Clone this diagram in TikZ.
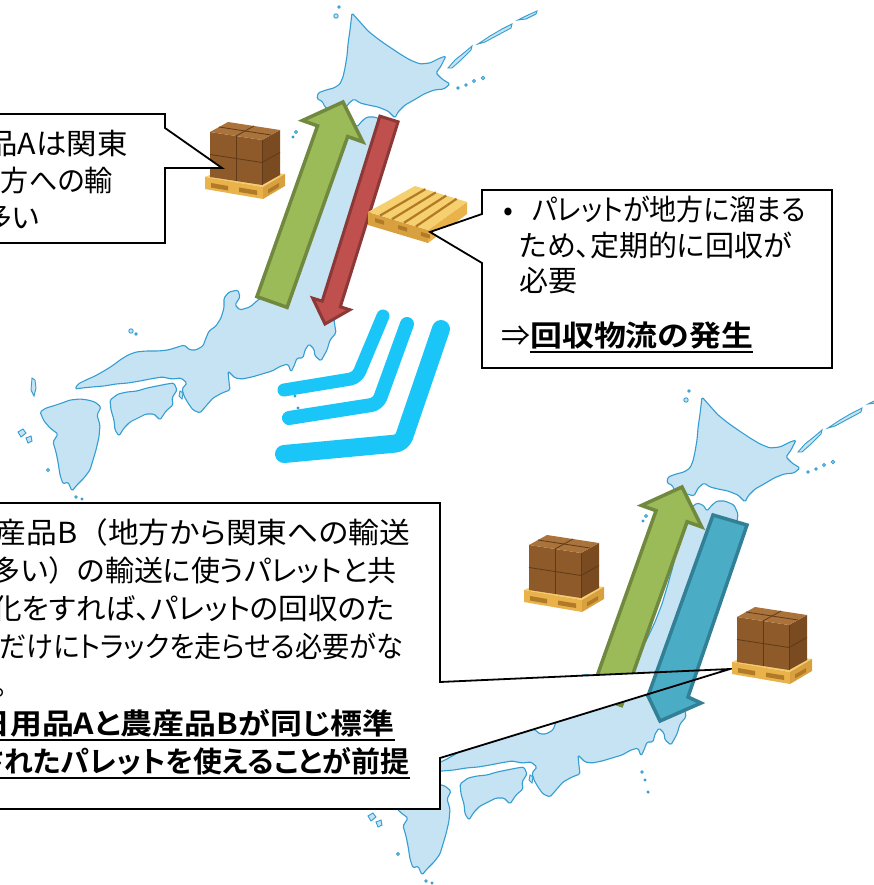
\documentclass[tikz,border=0pt]{standalone}
\usepackage{graphicx}
\usepackage{fontspec}
\setmainfont{Noto Sans CJK JP}[BoldFont={Noto Sans CJK JP Bold},RawFeature={+palt}]
\usetikzlibrary{calc}

\definecolor{mapfill}{RGB}{197,227,242}
\definecolor{mapline}{RGB}{52,158,210}
\definecolor{windcyan}{RGB}{26,198,248}
\definecolor{grfill}{RGB}{155,187,89}
\definecolor{grline}{RGB}{113,137,63}
\definecolor{rdfill}{RGB}{192,80,77}
\definecolor{rdline}{RGB}{140,56,54}
\definecolor{blfill}{RGB}{75,172,198}
\definecolor{blline}{RGB}{49,128,150}
\definecolor{boxtop}{RGB}{170,115,60}
\definecolor{boxfront}{RGB}{142,90,42}
\definecolor{boxside}{RGB}{122,74,32}
\definecolor{boxseam}{RGB}{94,58,24}
\definecolor{paltop}{RGB}{246,207,110}
\definecolor{palfront}{RGB}{233,178,75}
\definecolor{palside}{RGB}{217,160,64}
\definecolor{palslot}{RGB}{176,122,38}

% bold, underlined run of text
\newsavebox{\ulbbox}
\newcommand{\ulb}[1]{\sbox{\ulbbox}{\bfseries #1}\rlap{\rule[-7pt]{\wd\ulbbox}{2pt}}\usebox{\ulbbox}}
% full-width brackets without proportional spacing
\newcommand{\fw}[1]{{\addfontfeatures{RawFeature=-palt}#1}}
% horizontally scaled line of text
\newcommand{\sx}[2]{\scalebox{#1}[1]{#2}}

% block arrow: style, tail, tip, half shaft width, half head width, head length
\newcommand{\blockarrow}[6]{%
  \coordinate (ba-base) at ($(#3)!#6!(#2)$);
  \filldraw[#1] ($(#2)!#4!90:(#3)$) -- ($(ba-base)!#4!90:(#3)$) -- ($(ba-base)!#5!90:(#3)$) -- (#3)
    -- ($(ba-base)!#5!-90:(#3)$) -- ($(ba-base)!#4!-90:(#3)$) -- ($(#2)!#4!-90:(#3)$) -- cycle;
}

\tikzset{
  map/.style={fill=mapfill, draw=mapline, line width=1.1pt, line join=round, rounded corners=1.5pt},
  islet/.style={fill=mapfill, draw=mapline, line width=0.9pt},
  callout/.style={line width=1.8pt, line join=miter},
  txt/.style={inner sep=0pt, font=\fontsize{29}{35}\selectfont},
  wind/.style={draw=windcyan, line cap=round, line join=round, rounded corners=7pt},
  seam/.style={draw=boxseam, line width=0.8pt},
  japan/.pic={
    % Hokkaido
    \filldraw[map] (352,13) -- (360,22) -- (368,31) -- (378,39) -- (388,46) -- (400,54) -- (410,60)
      -- (420,64) -- (430,63) -- (440,58) -- (446,56) -- (441,66) -- (436,73) -- (442,79) -- (450,84)
      -- (444,89) -- (434,90) -- (424,94) -- (414,100) -- (405,105) -- (398,112) -- (395,118)
      -- (388,111) -- (378,107) -- (368,105) -- (360,103) -- (354,99) -- (348,104) -- (344,112)
      -- (337,110) -- (330,111) -- (325,107) -- (322,101) -- (317,99) -- (318,93) -- (326,90)
      -- (334,88) -- (340,84) -- (343,77) -- (345,68) -- (347,56) -- (348,44) -- (350,30) -- cycle;
    % Kuril chain and small islands of the north
    \filldraw[islet] (448,68) -- (455,60) -- (465,52) -- (472,46) -- (471,50) -- (461,60) -- (452,68) -- cycle;
    \filldraw[islet] (478,44) -- (490,36) -- (502,29) -- (512,24) -- (511,28) -- (498,35) -- (485,42) -- cycle;
    \filldraw[islet] (518,20) -- (528,15) -- (537,11) -- (536,14) -- (526,19) -- cycle;
    \filldraw[islet] (458,88) circle (1.3) (466,85) circle (1.3) (474,81) circle (1.5) (483,78) circle (1.8);
    \filldraw[islet] (336,16) circle (2.2) (339,7) circle (1.2);
    % Honshu
    \filldraw[map] (341,124) -- (347,119) -- (353,121) -- (357,127) -- (362,121) -- (367,117) -- (375,117)
      -- (384,121) -- (388,130) -- (386,145) -- (383,160) -- (380,175) -- (376,190) -- (370,208)
      -- (364,225) -- (357,245) -- (350,265) -- (344,285) -- (338,305) -- (334,320) -- (336,333)
      -- (330,340) -- (327,350) -- (321,361) -- (315,356) -- (314,349) -- (309,344) -- (305,350)
      -- (303,358) -- (297,358) -- (294,366) -- (291,372) -- (288,364) -- (281,366) -- (272,371)
      -- (262,374) -- (252,377) -- (242,379) -- (235,378) -- (228,371) -- (229,382) -- (230,390)
      -- (222,393) -- (213,398) -- (206,406) -- (200,413) -- (193,410) -- (188,403) -- (184,396)
      -- (182,389) -- (187,383) -- (181,378) -- (172,379) -- (162,377) -- (150,379) -- (140,381)
      -- (128,383) -- (116,384) -- (104,386) -- (92,387) -- (82,388) -- (75,389) -- (78,384)
      -- (86,380) -- (95,376) -- (104,371) -- (112,366) -- (120,360) -- (128,355) -- (136,352)
      -- (146,351) -- (158,351) -- (168,350) -- (178,347) -- (184,345) -- (190,350) -- (196,350)
      -- (203,346) -- (206,338) -- (209,331) -- (216,326) -- (221,318) -- (224,308) -- (224,298)
      -- (229,292) -- (238,290) -- (240,297) -- (235,305) -- (240,310) -- (250,307) -- (258,300)
      -- (268,293) -- (278,284) -- (288,270) -- (297,255) -- (305,238) -- (312,220) -- (318,200)
      -- (323,182) -- (327,165) -- (331,150) -- (335,138) -- (338,130) -- cycle;
    % Shikoku
    \filldraw[map] (110,400) -- (118,394) -- (127,392) -- (137,391) -- (147,388) -- (157,386) -- (167,384)
      -- (174,383) -- (177,390) -- (172,398) -- (173,405) -- (166,411) -- (160,420) -- (154,414)
      -- (146,414) -- (138,418) -- (130,422) -- (124,428) -- (119,436) -- (115,430) -- (114,420)
      -- (111,410) -- cycle;
    % Kyushu
    \filldraw[map] (80,399) -- (88,400) -- (95,402) -- (101,407) -- (97,415) -- (100,425) -- (99,437)
      -- (96,450) -- (93,460) -- (90,470) -- (84,478) -- (77,485) -- (72,491) -- (68,482) -- (63,484)
      -- (60,475) -- (58,462) -- (56,452) -- (53,442) -- (58,434) -- (50,428) -- (44,421) -- (40,412)
      -- (46,408) -- (53,406) -- (62,403) -- (70,400) -- cycle;
    % smaller islands
    \filldraw[islet] (32,378) -- (35,380) -- (36,388) -- (34,396) -- (31,390) -- cycle;
    \filldraw[islet] (18,432) -- (23,429) -- (26,433) -- (21,437) -- cycle;
    \filldraw[islet] (26,438) -- (31,436) -- (32,441) -- (28,443) -- cycle;
    \filldraw[islet] (131,331) circle (2.2) (136,334) circle (1.3);
    \filldraw[islet] (180,391) -- (183,393) -- (182,399) -- (179,396) -- cycle;
    \filldraw[islet] (296,132) circle (1.5) (293,137) circle (1);
    \filldraw[islet] (292,388) circle (1.2) (295,396) circle (1) (298,408) circle (1.1);
    \filldraw[islet] (48,470) circle (1.4) (76,497) circle (1.2) (82,499) circle (1);
  },
  cargo/.pic={
    % pallet under the load
    \fill[paltop] (0,58) -- (23,48) -- (80,55) -- (58,68) -- cycle;
    \fill[palfront] (0,58) -- (58,68) -- (58,80) -- (0,70) -- cycle;
    \fill[palside] (58,68) -- (80,55) -- (80,67) -- (58,80) -- cycle;
    \fill[palslot] (6,64) -- (23,67) -- (23,71.5) -- (6,68.5) -- cycle;
    \fill[palslot] (34,68.5) -- (52,71.5) -- (52,76) -- (34,73) -- cycle;
    \fill[palslot] (63,70.5) -- (74,64) -- (74,68) -- (63,74.5) -- cycle;
    % stacked cartons
    \fill[boxfront] (5,13) -- (57,21) -- (57,66) -- (5,58) -- cycle;
    \fill[boxside] (57,21) -- (75,11) -- (75,56) -- (57,66) -- cycle;
    \fill[boxtop] (5,13) -- (23,3) -- (75,11) -- (57,21) -- cycle;
    \draw[seam] (31,17) -- (31,62);
    \draw[seam] (5,35.5) -- (57,43.5) -- (75,33.5);
    \draw[seam] (14,8) -- (66,16);
    \draw[seam] (31,17) -- (49,7);
    \draw[seam] (57,21) -- (57,66);
  }
}

\begin{document}
\begin{tikzpicture}[x=1pt,y=-1pt]
\useasboundingbox (0,0) rectangle (874,885);
\clip (0,0) rectangle (874,885);
\fill[white] (0,0) rectangle (874,885);

% the two maps of Japan
\pic (mapTop) at (0,0) {japan};
\pic (mapBottom) at (350,384) {japan};

% cyan motion strokes
\draw[wind, line width=13pt] (383,316) -- (357,378) -- (284,390);
\draw[wind, line width=14pt] (407,324) -- (378,404) -- (289,418);
\draw[wind, line width=18pt] (441,329) -- (402,443) -- (284,454);

% outbound and return flows, upper map
\coordinate (gTail) at (272,302);
\coordinate (gTip) at (343,102);
\blockarrow{fill=grfill, draw=grline, line width=3.5pt}{gTail}{gTip}{16pt}{32pt}{31pt}
\coordinate (rTail) at (389,119);
\coordinate (rTip) at (325,324);
\blockarrow{fill=rdfill, draw=rdline, line width=3pt}{rTail}{rTip}{9.5pt}{19.5pt}{21pt}

% cargo and empty pallet, upper map
\pic (cargoA) at (205,119) {cargo};
\fill[palside] (368,212) -- (428,230) -- (428,243) -- (368,225) -- cycle;
\fill[palfront] (428,230) -- (467,202) -- (467,214) -- (428,243) -- cycle;
\fill[paltop] (368,212) -- (415,186) -- (467,202) -- (428,230) -- cycle;
\foreach \t in {0.2,0.4,0.6,0.8}
  \draw[palslot, line width=2.2pt] ($(368,212)!\t!(428,230)$) -- ($(415,186)!\t!(467,202)$);
\foreach \t in {0.12,0.5,0.88}
  \fill[palslot] ($(368,212)!\t!(428,230)+(0,4)$) -- ++(9,2.7) -- ++(0,4) -- ++(-9,-2.7) -- cycle;

% upper callouts
\coordinate (tlTip) at (222,168);
\filldraw[callout, fill=white] (-200,114) -- (165,114) -- (165,128) -- (tlTip) -- (165,168) -- (165,243) -- (-200,243) -- cycle;
\coordinate (trTip) at (430,232);
\filldraw[callout, fill=white] (482,190) -- (832,190) -- (832,368) -- (482,368) -- (482,263) -- (trTip) -- (482,214) -- cycle;

% flows, lower map
\coordinate (g2Tail) at (606,700);
\coordinate (g2Tip) at (682,487);
\blockarrow{fill=grfill, draw=grline, line width=3.5pt}{g2Tail}{g2Tip}{16.5pt}{32pt}{31pt}

\coordinate (blTip) at (730,669);
\fill[white] (-200,503) -- (440,503) -- (440,682) -- (blTip) -- (440,758) -- (440,809) -- (-200,809) -- cycle;

\filldraw[fill=blfill, draw=blline, line width=3.5pt, line join=miter]
  (713,515) -- (747,525) -- (688,697) -- (701,703) -- (660,721) -- (648,696) -- cycle;

\draw[callout] (-200,503) -- (440,503) -- (440,682) -- (blTip) -- (440,758) -- (440,809) -- (-200,809) -- cycle;

\pic (cargoB) at (524,532) {cargo};
\pic (cargoC) at (732,604) {cargo};

% texts
\node[txt, anchor=base east] (tl1) at (128,155) {\sx{1.05}{日用品Aは関東}};
\node[txt, anchor=base east] (tl2) at (113,192) {\sx{0.97}{から地方への輸}};
\node[txt, anchor=base east] (tl3) at (40,229) {送が多い};

\node[txt, anchor=base west] (tr1) at (503,221) {\makebox[29pt][l]{•}\sx{0.93}{パレットが地方に溜まる}};
\node[txt, anchor=base west] (tr2) at (519,256) {ため、定期的に回収が};
\node[txt, anchor=base west] (tr3) at (519,291) {必要};
\node[txt, anchor=base west] (tr4) at (501,346) {⇒\sx{1.1}{\ulb{回収物流の発生}}};

\node[txt, anchor=base east] (bl1) at (410,543) {\sx{1.06}{農産品B\fw{（}地方から関東への輸送}};
\node[txt, anchor=base east] (bl2) at (397,581) {が多い\fw{）}の輸送に使うパレットと共};
\node[txt, anchor=base east] (bl3) at (395,619) {\sx{1.02}{通化をすれば、パレットの回収のた}};
\node[txt, anchor=base east] (bl4) at (403,657) {\sx{0.936}{めだけにトラックを走らせる必要がな}};
\node[txt, anchor=base east] (bl5) at (8,695) {い。};
\node[txt, anchor=base east] (bl6) at (395,734) {\sx{1.1}{⇒\ulb{日用品Aと農産品Bが同じ標準}}};
\node[txt, anchor=base east] (bl7) at (410,772) {\sx{1.0}{\ulb{化されたパレットを使えることが前提}}};
\end{tikzpicture}
\end{document}
